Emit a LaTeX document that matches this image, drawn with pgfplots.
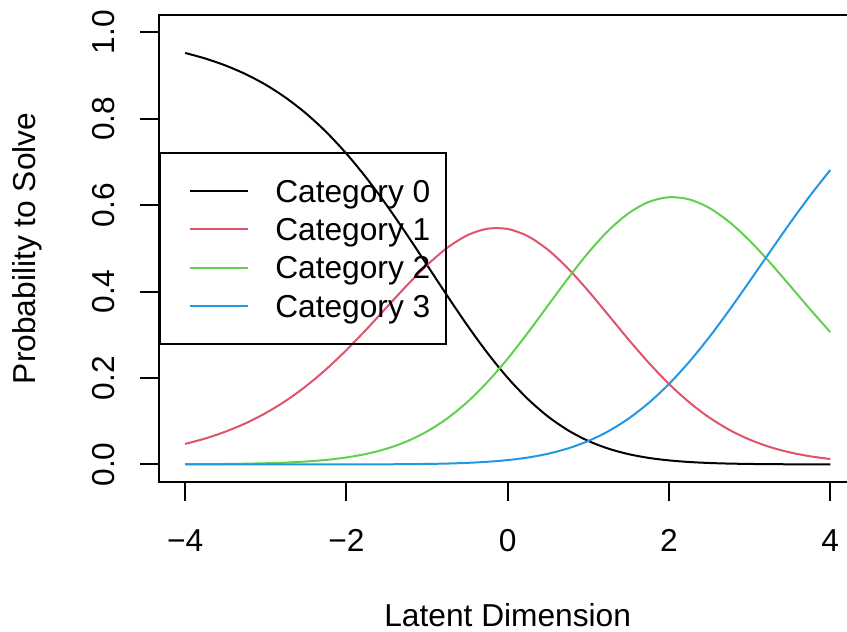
\documentclass[border=0pt]{standalone}
\usepackage{fontspec}
\setmainfont{Liberation Sans}
\usepackage{pgfplots}
\usepackage{pgfplotstable}
\pgfplotsset{compat=1.18}
\definecolor{rred}{HTML}{DF536B}
\definecolor{rgreen}{HTML}{61D04F}
\definecolor{rblue}{HTML}{2297E6}

\pgfplotstableread{
theta p0 p1 p2 p3
-4.00 0.9522 0.0474 0.0004 0.0000
-3.75 0.9393 0.0600 0.0006 0.0000
-3.50 0.9232 0.0758 0.0010 0.0000
-3.25 0.9032 0.0952 0.0017 0.0000
-3.00 0.8785 0.1189 0.0027 0.0000
-2.75 0.8483 0.1474 0.0042 0.0000
-2.50 0.8121 0.1812 0.0067 0.0000
-2.25 0.7692 0.2204 0.0104 0.0000
-2.00 0.7192 0.2646 0.0161 0.0001
-1.75 0.6625 0.3129 0.0244 0.0002
-1.50 0.5996 0.3637 0.0365 0.0003
-1.25 0.5319 0.4142 0.0533 0.0006
-1.00 0.4613 0.4613 0.0763 0.0011
-0.75 0.3904 0.5012 0.1064 0.0020
-0.50 0.3216 0.5303 0.1445 0.0036
-0.25 0.2576 0.5454 0.1909 0.0061
0.00 0.2004 0.5448 0.2448 0.0100
0.25 0.1513 0.5281 0.3047 0.0159
0.50 0.1108 0.4966 0.3679 0.0247
0.75 0.0787 0.4531 0.4310 0.0372
1.00 0.0543 0.4013 0.4901 0.0543
1.25 0.0364 0.3452 0.5414 0.0770
1.50 0.0237 0.2887 0.5814 0.1062
1.75 0.0150 0.2350 0.6075 0.1425
2.00 0.0093 0.1862 0.6183 0.1862
2.25 0.0056 0.1439 0.6133 0.2372
2.50 0.0033 0.1084 0.5935 0.2947
2.75 0.0019 0.0798 0.5608 0.3576
3.00 0.0011 0.0574 0.5177 0.4239
3.25 0.0006 0.0403 0.4676 0.4915
3.50 0.0003 0.0278 0.4136 0.5583
3.75 0.0002 0.0188 0.3589 0.6221
4.00 0.0001 0.0125 0.3061 0.6813
}\icc

\begin{document}
\fontsize{15.85}{19}\selectfont
\begin{tikzpicture}
\begin{axis}[
  at={(0pt,0pt)}, anchor=south west,
  scale only axis, width=348.4pt, height=233.35pt,
  xmin=-4.32, xmax=4.32, ymin=-0.04, ymax=1.04,
  xtick={-4,-2,0,2,4}, xticklabels={−4,−2,0,2,4},
  ytick={0,0.2,0.4,0.6,0.8,1}, yticklabels={0.0,0.2,0.4,0.6,0.8,1.0},
  tick align=outside, major tick length=9.75pt,
  xtick pos=bottom, ytick pos=left,
  axis line style={line width=1pt},
  every tick/.style={black, line width=1pt},
  xticklabel style={anchor=base, yshift=-24.9pt},
  yticklabel style={rotate=90, anchor=base, yshift=12.4pt},
  xlabel={Latent Dimension}, ylabel={Probability to Solve},
  xlabel style={at={(axis description cs:0.5,-0.3107)}, anchor=base},
  ylabel style={at={(axis description cs:-0.1770,0.5)}, anchor=base},
  legend cell align=left,
  legend style={at={(axis description cs:0,0.5)}, anchor=west, draw=black, line width=1pt, fill=none,
    inner xsep=7.85pt, inner ysep=9.575pt, row sep=0pt, column sep=13.15pt,
    nodes={inner sep=0pt, text height=15.275pt, text depth=3.875pt, anchor=base west}},
  legend image code/.code={\path (0pt,0pt); \draw[#1] (6.3pt,5.7pt) -- (35.5pt,5.7pt);},
]
\addplot[black, line width=1pt, smooth] table[x=theta, y=p0] {\icc};
\addlegendentry{Category 0}
\addplot[rred, line width=1pt, smooth] table[x=theta, y=p1] {\icc};
\addlegendentry{Category 1}
\addplot[rgreen, line width=1pt, smooth] table[x=theta, y=p2] {\icc};
\addlegendentry{Category 2}
\addplot[rblue, line width=1pt, smooth] table[x=theta, y=p3] {\icc};
\addlegendentry{Category 3}
\end{axis}
\pgfresetboundingbox
\useasboundingbox (-79.65pt,-75.15pt) rectangle (343.85pt,240.85pt);
\end{tikzpicture}
\end{document}
